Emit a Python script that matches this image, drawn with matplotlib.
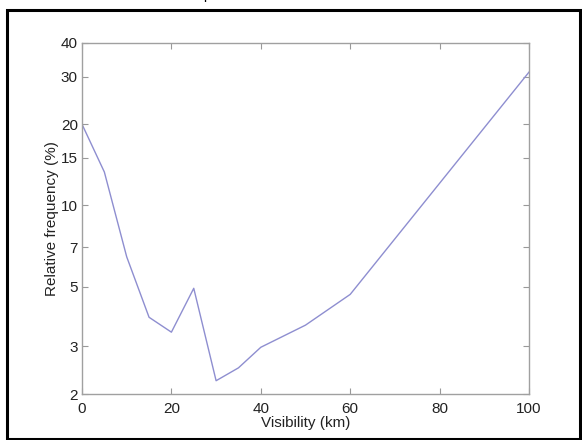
import matplotlib
matplotlib.use("Agg")
import matplotlib.pyplot as plt
from matplotlib.patches import Rectangle
from matplotlib.ticker import FixedLocator, NullLocator

plt.rcParams['font.family'] = ['Liberation Sans', 'DejaVu Sans']

# visibility (km) vs relative frequency (%)
visibility = [0, 5, 10, 15, 20, 25, 30, 35, 40, 50, 60, 100]
frequency = [20.0, 13.3, 6.45, 3.85, 3.39, 4.93, 2.24, 2.50, 2.98, 3.60, 4.68, 31.2]

x_ticks = [0, 20, 40, 60, 80, 100]
y_ticks = [2, 3, 5, 7, 10, 15, 20, 30, 40]

fig = plt.figure(figsize=(5.82, 4.40), dpi=100)
ax = fig.add_axes([82 / 582, 46 / 440, 447 / 582, 351 / 440])

ax.plot(visibility, frequency, color='#8e8ed0', lw=1.0)

ax.set_yscale('log')
ax.set_xlim(0, 100)
ax.set_ylim(2, 40)
ax.xaxis.set_major_locator(FixedLocator(x_ticks))
ax.yaxis.set_major_locator(FixedLocator(y_ticks))
ax.yaxis.set_minor_locator(NullLocator())
ax.set_xticklabels([str(t) for t in x_ticks])
ax.set_yticklabels([str(t) for t in y_ticks])

ax.tick_params(direction='in', length=4, width=0.8, color='#999999',
               labelsize=11, labelcolor='#222222', top=True, right=True, pad=3)
ax.tick_params(axis='x', pad=6)
for s in ax.spines.values():
    s.set_color('#a0a0a0')
    s.set_linewidth(1.0)

ax.set_xlabel('Visibility (km)', fontsize=11, color='#222222', labelpad=0)
ax.set_ylabel('Relative frequency (%)', fontsize=11, color='#222222', labelpad=1)

# outer frame of the picture
fig.patches.append(Rectangle((7 / 582, 1.5 / 440), 573 / 582, 428.5 / 440,
                             transform=fig.transFigure, fill=False,
                             edgecolor='black', lw=2.2))
# cut off caption letter above the frame (cut in the reference too)
fig.text(203 / 582, 1.0 + 1 / 440, 'p', fontsize=10, va='baseline', color='black')

fig.savefig('out.png', dpi=100)
